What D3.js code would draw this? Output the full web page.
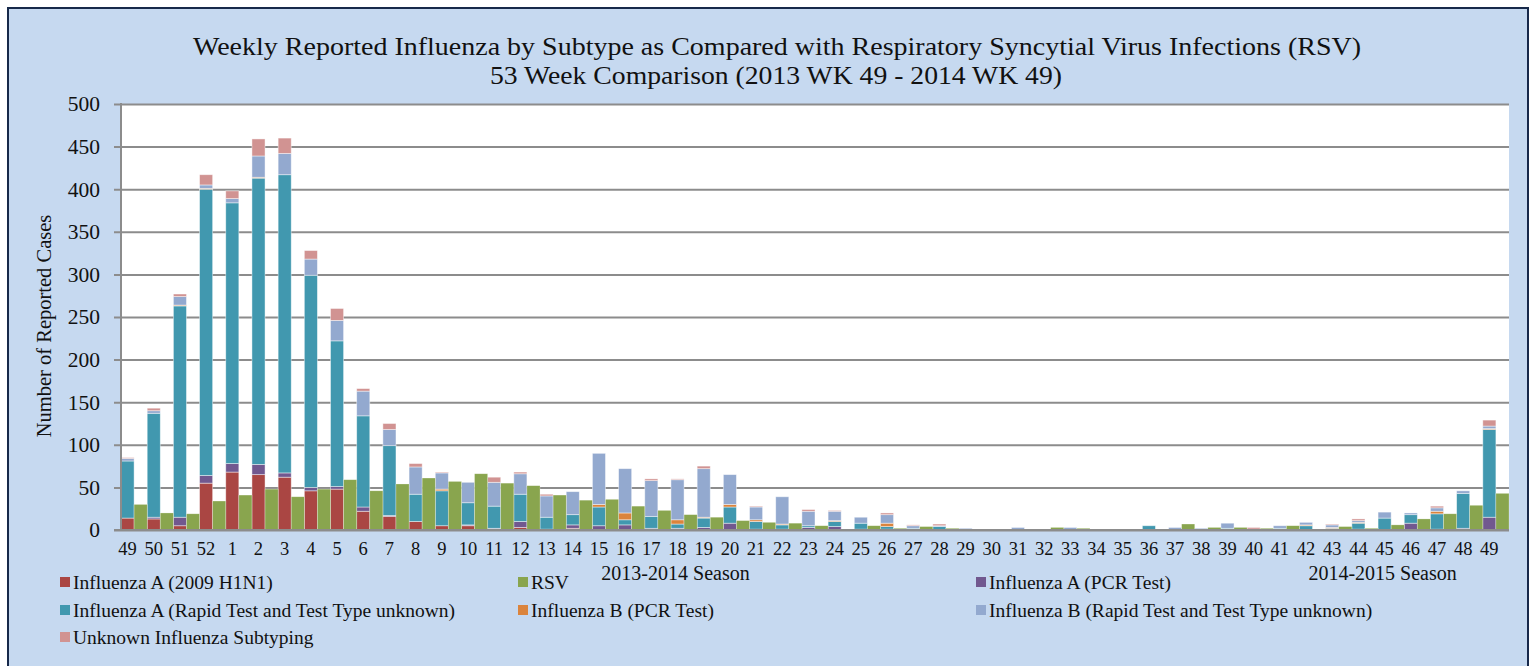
<!DOCTYPE html>
<html>
<head>
<meta charset="utf-8">
<script src="https://cdn.jsdelivr.net/npm/d3@7"></script>
<style>
  html, body { margin: 0; padding: 0; background: #ffffff; }
  svg { display: block; }
  text { font-family: "Liberation Serif", "DejaVu Serif", serif; fill: #111; }
</style>
</head>
<body>
<svg id="chart" width="1535" height="666"></svg>
<script>
// ---------- DATA ----------
const weeks = ["49","50","51","52","1","2","3","4","5","6","7","8","9","10","11","12","13","14","15","16","17","18","19","20","21","22","23","24","25","26","27","28","29","30","31","32","33","34","35","36","37","38","39","40","41","42","43","44","45","46","47","48","49"];

const fluA_H1N1  = [14,13,5,55,68,65,62,46,48,22,16,10,5,5,1,3,0,2,0,0,0,0,0,0,0,0,0,0,0,0,0,0,0,0,0,0,0,0,0,0,0,0,0,0,0,0,0,0,0,0,0,0,0];
const fluA_PCR   = [0,2,10,9,10,12,5,4,3,5,1,0,0,1,1,7,1,4,5,6,2,2,3,8,1,1,3,4,1,1,0,0,0,0,0,0,0,0,0,0,0,0,0,0,0,0,1,1,0,8,1,2,15];
const fluA_Rapid = [67,122,248,336,306,336,350,249,171,107,82,32,41,26,26,32,14,12,22,6,14,5,11,19,9,5,2,6,7,3,2,4,0,0,0,1,0,0,0,5,0,0,2,0,2,5,1,7,14,10,18,41,103];
const fluB_PCR   = [0,0,1,1,0,1,0,0,0,0,0,0,2,0,0,0,0,0,3,8,0,5,1,3,2,1,0,1,0,4,0,0,0,0,0,0,0,0,0,0,0,0,0,1,0,1,1,1,0,0,3,0,1];
const fluB_Rapid = [3,3,10,4,5,25,25,19,24,29,19,32,19,24,28,24,25,27,60,52,42,47,57,35,15,32,17,11,7,10,3,1,2,1,3,0,3,0,0,0,3,2,6,0,3,3,3,2,7,2,4,3,3];
const fluUnknown = [1,3,3,12,9,20,18,10,14,3,7,4,1,0,6,2,2,0,0,0,2,1,3,0,1,0,2,1,0,2,1,2,0,0,0,0,0,0,0,0,0,0,0,2,0,0,1,2,0,0,2,0,7];
const rsv        = [30,20,19,34,41,48,39,48,59,46,54,61,57,66,55,52,41,35,36,28,23,18,15,11,9,8,5,1,5,2,4,2,1,1,1,3,2,1,1,1,7,3,3,2,5,1,4,2,6,13,19,29,43];

const yTicks = [0,50,100,150,200,250,300,350,400,450,500];

const stackKeys   = ["h1n1","pcrA","rapidA","pcrB","rapidB","unknown"];
const stackColors = {h1n1:"#AA4643", pcrA:"#71588F", rapidA:"#4198AF", pcrB:"#DB843D", rapidB:"#93A9CF", unknown:"#D19392"};
const rsvColor = "#89A54E";

const legendItems = [
  ["Influenza A (2009 H1N1)", "#AA4643"],
  ["RSV", "#89A54E"],
  ["Influenza A (PCR Test)", "#71588F"],
  ["Influenza A (Rapid Test and Test Type unknown)", "#4198AF"],
  ["Influenza B (PCR Test)", "#DB843D"],
  ["Influenza B (Rapid Test and Test Type unknown)", "#93A9CF"],
  ["Unknown Influenza Subtyping", "#D19392"]
];

const titleLines = ["Weekly Reported Influenza by Subtype as Compared with Respiratory Syncytial Virus Infections (RSV)",
                    "53 Week Comparison (2013 WK 49 - 2014 WK 49)"];
const seasons = [["2013-2014 Season", 21], ["2014-2015 Season", 48]];

// ---------- BUILD ----------
const rows = weeks.map((w, i) => ({
  idx: i, week: w,
  h1n1: fluA_H1N1[i], pcrA: fluA_PCR[i], rapidA: fluA_Rapid[i],
  pcrB: fluB_PCR[i], rapidB: fluB_Rapid[i], unknown: fluUnknown[i], rsv: rsv[i]
}));

const svg = d3.select("#chart");
const W = 1535, H = 666;
const plot = {left: 121, right: 1509, top: 104, bottom: 530};

// frame
svg.append("rect").attr("x", 0).attr("y", 0).attr("width", W).attr("height", H).attr("fill", "#ffffff");
svg.append("rect").attr("x", 8).attr("y", 8).attr("width", 1520).attr("height", 680)
  .attr("fill", "#C6D9F0").attr("stroke", "#17294A").attr("stroke-width", 2);

const x = d3.scaleBand().domain(d3.range(weeks.length)).range([plot.left, plot.right]).paddingInner(0).paddingOuter(0);
const xs = d3.scaleBand().domain(["flu","rsv"]).range([0, x.bandwidth()]).padding(0);
const y = d3.scaleLinear().domain([0, 500]).range([plot.bottom, plot.top]);

// plot area
svg.append("rect").attr("x", plot.left).attr("y", plot.top)
  .attr("width", plot.right - plot.left).attr("height", plot.bottom - plot.top).attr("fill", "#ffffff");

// gridlines + y axis
const yAxis = d3.axisLeft(y).tickValues(yTicks).tickSize(-(plot.right - plot.left)).tickPadding(21).tickFormat(d3.format("d"));
const gy = svg.append("g").attr("transform", `translate(${plot.left},0)`).call(yAxis);
gy.select(".domain").remove();
gy.selectAll(".tick line").attr("stroke", "#8C8C8C").attr("stroke-width", 2).attr("x1", -7);
gy.selectAll(".tick text").attr("font-size", 21.5).attr("font-family", "Liberation Serif").attr("fill", "#111");

// bars
const stack = d3.stack().keys(stackKeys)(rows);
const g = svg.append("g");
stack.forEach(layer => {
  g.selectAll(null).data(layer).join("rect")
    .attr("x", d => x(d.data.idx) + xs("flu"))
    .attr("width", xs.bandwidth())
    .attr("y", d => y(d[1]))
    .attr("height", d => Math.max(0, y(d[0]) - y(d[1])))
    .attr("fill", stackColors[layer.key])
    .attr("stroke", "rgba(255,255,255,0.55)").attr("stroke-width", 0.8)
    .attr("display", d => d[1] - d[0] > 0 ? null : "none");
});
g.selectAll(null).data(rows).join("rect")
  .attr("x", d => x(d.idx) + xs("rsv"))
  .attr("width", xs.bandwidth())
  .attr("y", d => y(d.rsv))
  .attr("height", d => y(0) - y(d.rsv))
  .attr("fill", rsvColor)
  .attr("stroke", "rgba(255,255,255,0.4)").attr("stroke-width", 0.6)
  .attr("display", d => d.rsv > 0 ? null : "none");

// y axis line & x axis line
svg.append("line").attr("x1", plot.left).attr("x2", plot.left).attr("y1", plot.top - 1).attr("y2", plot.bottom + 1)
  .attr("stroke", "#8C8C8C").attr("stroke-width", 2);
svg.append("line").attr("x1", plot.left - 7).attr("x2", plot.right).attr("y1", plot.bottom).attr("y2", plot.bottom)
  .attr("stroke", "#8C8C8C").attr("stroke-width", 2);

// x labels (centered under the influenza bar)
const xAxis = d3.axisBottom(x).tickSize(0).tickPadding(12).tickFormat(i => weeks[i]);
const gx = svg.append("g").attr("transform", `translate(${xs.bandwidth()/2 - x.bandwidth()/2},${plot.bottom})`).call(xAxis);
gx.select(".domain").remove();
gx.selectAll(".tick text").attr("font-size", 18.5).attr("font-family", "Liberation Serif").attr("fill", "#111");

// y axis title
svg.append("text").attr("transform", `translate(51,${(plot.top + plot.bottom) / 2 + 9}) rotate(-90)`)
  .attr("text-anchor", "middle").attr("font-size", 20.5).text("Number of Reported Cases");

// title
svg.append("text").attr("x", 777).attr("y", 55).attr("text-anchor", "middle").attr("font-size", 26)
  .attr("textLength", 1168).attr("lengthAdjust", "spacingAndGlyphs").text(titleLines[0]);
svg.append("text").attr("x", 776).attr("y", 84).attr("text-anchor", "middle").attr("font-size", 26)
  .attr("textLength", 572).attr("lengthAdjust", "spacingAndGlyphs").text(titleLines[1]);

// season labels
seasons.forEach(([t, i]) => {
  svg.append("text").attr("x", x(i) + xs("flu") + xs.bandwidth()/2 - 2).attr("y", 580).attr("text-anchor", "middle")
    .attr("font-size", 20).text(t);
});

// legend
const legCols = [60, 518, 976];
const legRows = [589, 617, 644];
legendItems.forEach(([label, color], k) => {
  const cx = legCols[k % 3], cy = legRows[Math.floor(k / 3)];
  svg.append("rect").attr("x", cx).attr("y", cy - 12).attr("width", 10).attr("height", 10).attr("fill", color);
  svg.append("text").attr("x", cx + 13).attr("y", cy).attr("font-size", 19.5).text(label);
});
</script>
</body>
</html>
